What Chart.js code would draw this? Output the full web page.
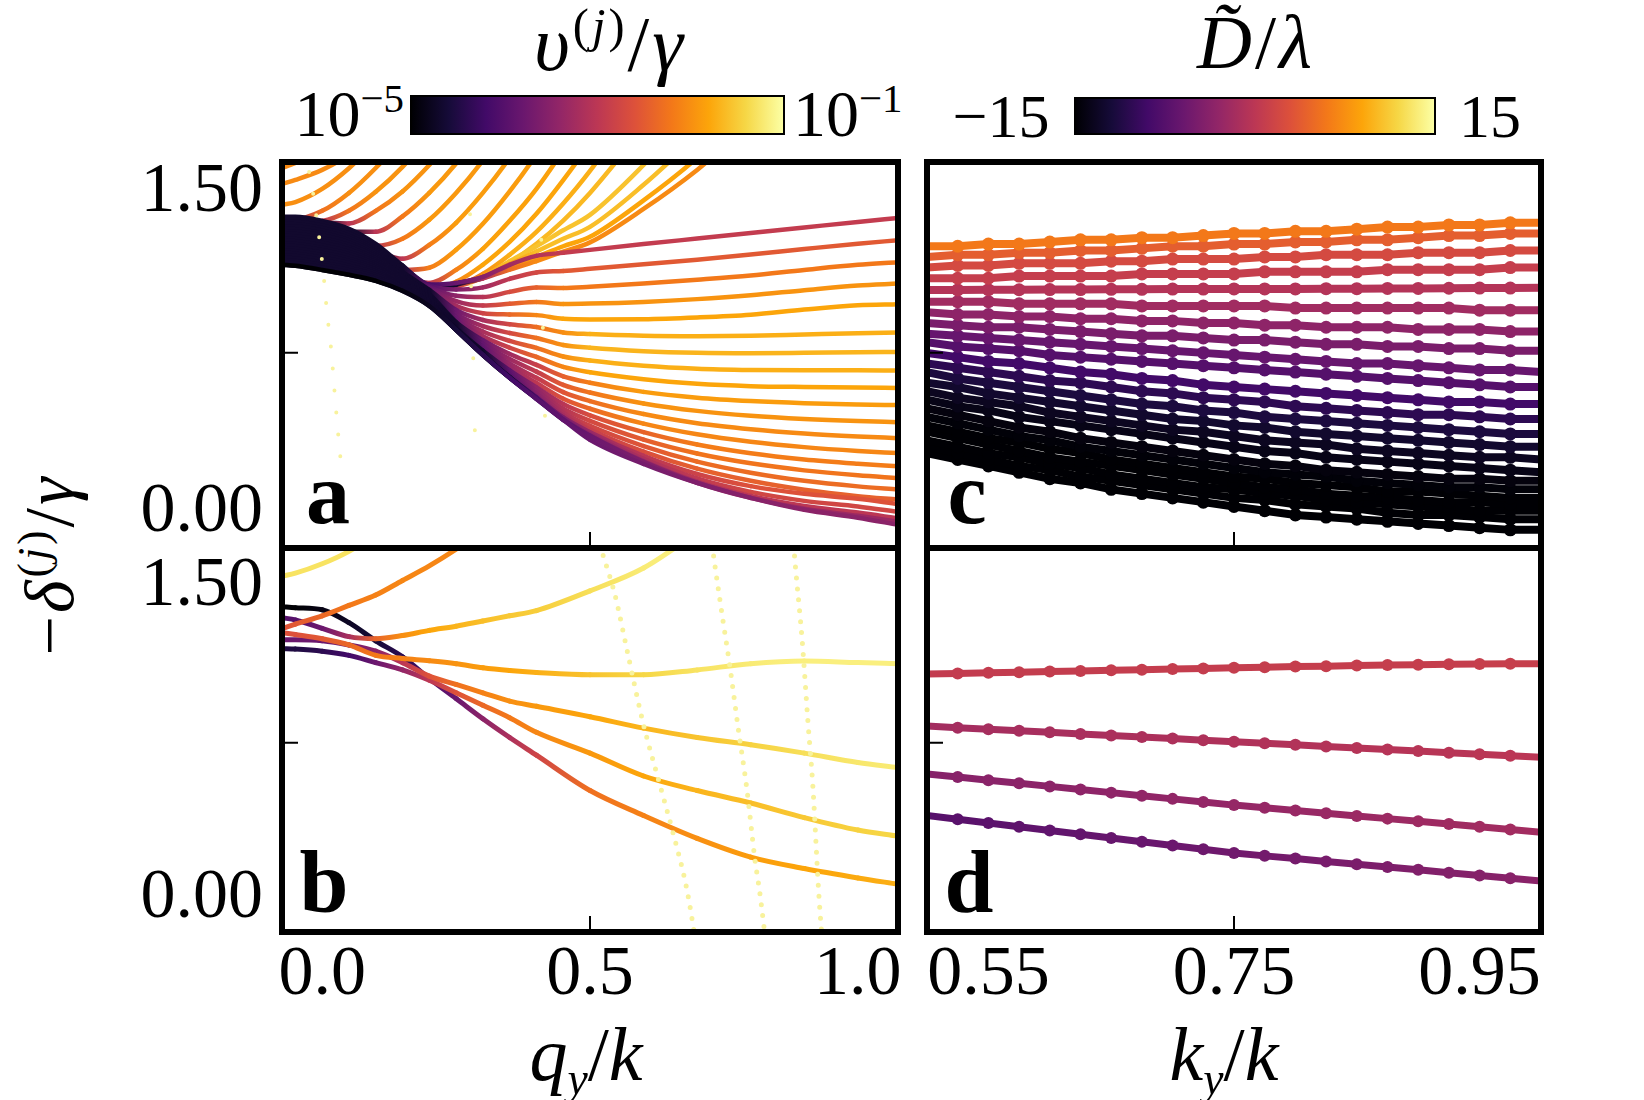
<!DOCTYPE html>
<html><head><meta charset="utf-8">
<script src="https://cdn.jsdelivr.net/npm/chart.js@4.4.1/dist/chart.umd.min.js"></script>
<style>
body{margin:0;background:#fff;}
#fig{position:relative;width:1644px;height:1100px;overflow:hidden;background:#fff;font-family:'Liberation Serif',serif;color:#000;}
.box{position:absolute;}
.t{position:absolute;white-space:nowrap;line-height:1;transform:translate(-50%,-50%);}
.tl{position:absolute;white-space:nowrap;line-height:1;transform:translate(0,-50%);}
.tr{position:absolute;white-space:nowrap;line-height:1;transform:translate(-100%,-50%);}
.it{font-style:italic;}
.up{font-style:normal;}
.bar{position:absolute;border:2px solid #000;box-sizing:border-box;}
sup{font-size:0.62em;position:relative;top:-0.58em;vertical-align:baseline;line-height:0;}
sub{font-size:0.6em;position:relative;top:0.3em;vertical-align:baseline;line-height:0;}
</style></head>
<body><div id="fig">
<div class="t it" style="left:610px;top:44px;font-size:78px;letter-spacing:3px">υ<sup><span class="up">(</span>j<span class="up">)</span></sup><span class="up">/</span>γ</div>
<div class="t it" style="left:1256px;top:42px;font-size:76px;letter-spacing:3px">D&#771;<span class="up">/</span>λ</div>
<div class="bar" id="bar1" style="left:410px;top:95px;width:375px;height:40px"></div>
<div class="bar" id="bar2" style="left:1074px;top:97px;width:362px;height:38px"></div>
<div class="tr" style="left:404px;top:114px;font-size:66px">10<sup>−5</sup></div>
<div class="tl" style="left:793px;top:114px;font-size:66px">10<sup>−1</sup></div>
<div class="t" style="left:1001px;top:116px;font-size:62px">−15</div>
<div class="t" style="left:1490px;top:116px;font-size:62px">15</div>
<div class="t it" style="left:50px;top:565px;font-size:70px;letter-spacing:3px;transform:translate(-50%,-50%) rotate(-90deg)"><span class="up">−</span>δ<sup><span class="up">(</span>j<span class="up">)</span></sup><span class="up">/</span>γ</div>
<div class="t it" style="left:586px;top:1054px;font-size:76px">q<sub>y</sub><span class="up">/</span>k</div>
<div class="t it" style="left:1224px;top:1054px;font-size:76px">k<sub>y</sub><span class="up">/</span>k</div>
<div class="t" style="left:328px;top:494px;font-size:88px;font-weight:bold">a</div>
<div class="t" style="left:324px;top:883px;font-size:88px;font-weight:bold">b</div>
<div class="t" style="left:967px;top:494px;font-size:88px;font-weight:bold">c</div>
<div class="t" style="left:969px;top:883px;font-size:88px;font-weight:bold">d</div>
</div>
<script>
// ---------- panel a : -delta/gamma vs q_y/k, many v values ----------
const aQ = [-0.075,-0.05,0,0.05,0.1,0.15,0.2,0.25,0.3,0.35,0.4,0.45,0.5,0.6,0.7,0.8,0.9,1.0,1.075];

// curves fanning out to the right edge (top to bottom at the right)
const aFan = [
  [1.388,1.388,1.369,1.332,1.261,1.160,1.070,1.078,1.106,1.163,1.205,1.219,1.233,1.260,1.286,1.312,1.338,1.364,1.383],
  [1.377,1.376,1.357,1.321,1.253,1.154,1.065,1.047,1.057,1.097,1.127,1.134,1.144,1.165,1.187,1.211,1.237,1.262,1.278],
  [1.366,1.365,1.346,1.310,1.244,1.148,1.060,1.018,1.012,1.036,1.056,1.054,1.060,1.075,1.093,1.113,1.139,1.163,1.175],
  [1.354,1.353,1.334,1.299,1.235,1.142,1.055,0.993,0.972,0.980,0.989,0.979,0.981,0.989,1.002,1.020,1.044,1.066,1.075],
  [1.343,1.342,1.323,1.288,1.227,1.136,1.050,0.971,0.936,0.930,0.927,0.910,0.907,0.908,0.916,0.929,0.953,0.973,0.978],
  [1.332,1.330,1.311,1.278,1.218,1.130,1.045,0.951,0.904,0.884,0.871,0.846,0.838,0.830,0.828,0.830,0.836,0.842,0.845],
  [1.321,1.319,1.300,1.267,1.209,1.124,1.040,0.933,0.875,0.843,0.820,0.787,0.774,0.758,0.750,0.748,0.750,0.753,0.754],
  [1.309,1.307,1.288,1.256,1.201,1.118,1.035,0.918,0.850,0.806,0.773,0.733,0.714,0.690,0.676,0.670,0.668,0.668,0.667],
  [1.298,1.296,1.277,1.245,1.192,1.112,1.030,0.905,0.828,0.774,0.731,0.684,0.659,0.626,0.605,0.594,0.590,0.588,0.585],
  [1.287,1.284,1.265,1.235,1.183,1.106,1.025,0.894,0.809,0.745,0.694,0.640,0.610,0.567,0.540,0.524,0.514,0.508,0.505],
  [1.276,1.273,1.254,1.224,1.175,1.100,1.020,0.885,0.793,0.721,0.662,0.600,0.564,0.513,0.478,0.455,0.440,0.430,0.425],
  [1.264,1.261,1.242,1.213,1.166,1.094,1.015,0.878,0.779,0.699,0.633,0.566,0.524,0.463,0.420,0.392,0.372,0.358,0.350],
  [1.253,1.250,1.231,1.202,1.157,1.088,1.010,0.872,0.769,0.682,0.609,0.535,0.488,0.418,0.368,0.333,0.308,0.290,0.280],
  [1.242,1.238,1.219,1.191,1.149,1.082,1.005,0.867,0.760,0.668,0.588,0.510,0.457,0.378,0.320,0.279,0.250,0.230,0.218],
  [1.231,1.227,1.208,1.181,1.140,1.076,1.000,0.864,0.753,0.657,0.572,0.488,0.431,0.343,0.278,0.232,0.199,0.176,0.163],
  [1.219,1.215,1.196,1.170,1.131,1.070,0.995,0.861,0.748,0.648,0.559,0.470,0.408,0.313,0.240,0.188,0.150,0.124,0.110],
  [1.208,1.204,1.185,1.159,1.123,1.064,0.990,0.860,0.744,0.641,0.549,0.457,0.391,0.287,0.207,0.150,0.108,0.078,0.062],
  [1.197,1.192,1.173,1.148,1.114,1.058,0.985,0.858,0.742,0.637,0.542,0.447,0.378,0.267,0.182,0.125,0.089,0.066,0.041],
  [1.186,1.181,1.162,1.138,1.105,1.052,0.980,0.858,0.741,0.635,0.537,0.441,0.368,0.253,0.161,0.098,0.056,0.030,0.004],
  [1.174,1.170,1.151,1.127,1.097,1.046,0.975,0.858,0.740,0.633,0.535,0.437,0.363,0.243,0.146,0.079,0.032,0.001,-0.026],
  [1.163,1.158,1.139,1.116,1.088,1.040,0.970,0.858,0.740,0.633,0.535,0.436,0.361,0.239,0.141,0.070,0.019,-0.014,-0.042]
];
const aFanTurn = [6,6,6,6,6,7,7,7,7,8,8,8,8,9,9,9,9,10,10,10,10];
const aFanTone = [0.52,0.62,0.7,0.76,0.8,0.82,0.83,0.82,0.8,0.78,0.76,0.74,0.73,0.71,0.69,0.67,0.64,0.6,0.56,0.5,0.42];

// curves leaving the band upwards (exit through the top)
const aUp = [
  [1.617,1.641,1.702],
  [1.542,1.561,1.608,1.678,1.772],
  [1.444,1.457,1.519,1.616,1.739,1.88],
  [1.378,1.378,1.416,1.50,1.617,1.756,1.927],
  [1.364,1.364,1.369,1.416,1.505,1.622,1.767,1.936],
  [1.355,1.355,1.36,1.357,1.416,1.507,1.631,1.779,1.946],
  [1.346,1.346,1.346,1.318,1.318,1.39,1.50,1.638,1.805,1.99],
  [1.336,1.336,1.332,1.304,1.252,1.285,1.374,1.50,1.652,1.833,2.025],
  [1.327,1.327,1.322,1.289,1.233,1.191,1.256,1.36,1.50,1.664,1.852,2.05,2.3],
  [1.318,1.318,1.313,1.28,1.219,1.139,1.149,1.233,1.355,1.507,1.68,1.88,2.11],
  [1.308,1.308,1.303,1.27,1.205,1.111,1.078,1.139,1.238,1.369,1.519,1.70,1.903,2.37],
  [1.299,1.299,1.294,1.261,1.196,1.097,1.05,1.083,1.163,1.27,1.402,1.56,1.735,2.14],
  [1.29,1.29,1.285,1.252,1.186,1.088,1.045,1.061,1.12,1.21,1.317,1.45,1.603,1.96],
  [1.28,1.28,1.275,1.242,1.177,1.078,1.045,1.06,1.102,1.172,1.261,1.37,1.50,1.805],
  [1.27,1.27,1.266,1.233,1.167,1.069,1.041,1.069,1.11,1.18,1.25,1.325,1.397,1.631,1.903],
  [1.261,1.261,1.256,1.224,1.158,1.06,1.036,1.074,1.105,1.165,1.225,1.285,1.341,1.538,1.767],
  [1.252,1.252,1.247,1.214,1.149,1.055,1.031,1.074,1.10,1.15,1.20,1.25,1.294,1.465,1.664,1.903],
  [1.242,1.242,1.238,1.205,1.139,1.05,1.027,1.069,1.10,1.14,1.18,1.225,1.268,1.425,1.608,1.824]
];
const aUpTurn = [-3,-3,-3,1,2,3,4,4,5,5,6,6,7,7,7,8,8,8];
const aUpTone = [0.74,0.74,0.75,0.75,0.76,0.76,0.77,0.77,0.78,0.78,0.79,0.8,0.82,0.84,0.86,0.85,0.8,0.74];

// lower envelope (small-v limit)
const aEdge = [1.163,1.158,1.139,1.116,1.088,1.041,0.970,0.858,0.741,0.633,0.534,0.436,0.342,0.229,0.140,0.070,0.014,-0.023,-0.056];
const aEdgeTone = [0,0,0,0,0,0.02,0.05,0.1,0.15,0.2,0.25,0.28,0.3,0.33,0.35,0.37,0.38,0.38,0.38];

// sparse pale dotted branches in a
const aDot1Q = [-0.03,-0.026,-0.021,-0.013,0.002,0.009,0.017,0.024,0.032,0.037];
const aDot1V = [1.70,1.62,1.56,1.43,1.13,0.94,0.76,0.54,0.31,0.19];
const aDot2Q = [0.276,0.278,0.282,0.285,0.289];
const aDot2V = [1.40,1.06,0.73,0.39,0.05];
const aDot3Q = [0.409,0.412,0.416,0.42];
const aDot3V = [1.28,0.87,0.45,0.05];

// ---------- panel b : a few selected curves, value and colour (v-scale position 0..1) per point ----------
const bQ = [-0.075,-0.05,0,0.05,0.1,0.15,0.2,0.25,0.3,0.35,0.4,0.5,0.6,0.7,0.8,0.9,1.0,1.075];
const bCurves = [
  [1.55,1.565,1.61,1.67,1.75],
  [1.298,1.32,1.36,1.41,1.46,1.53,1.60,1.68,1.77],
  [1.351,1.34,1.30,1.26,1.25,1.265,1.29,1.31,1.335,1.36,1.385,1.48,1.59,1.76],
  [1.279,1.27,1.25,1.22,1.17,1.155,1.144,1.13,1.11,1.097,1.088,1.077,1.077,1.10,1.13,1.143,1.135,1.13],
  [1.245,1.245,1.24,1.22,1.19,1.135,1.07,1.03,0.99,0.95,0.925,0.875,0.82,0.775,0.74,0.70,0.655,0.63],
  [1.202,1.20,1.19,1.17,1.135,1.10,1.05,0.99,0.93,0.87,0.80,0.70,0.59,0.52,0.46,0.39,0.33,0.30],
  [1.404,1.399,1.389,1.327,1.24,1.163,1.058,0.962,0.865,0.775,0.69,0.52,0.40,0.29,0.20,0.145,0.10,0.07]
];
const bTones = [
  [0.93,0.93,0.93,0.93,0.93],
  [0.6,0.62,0.66,0.7,0.72,0.73,0.73,0.73,0.73],
  [0.25,0.25,0.3,0.45,0.65,0.75,0.8,0.83,0.85,0.87,0.88,0.92,0.95,0.97],
  [0.6,0.6,0.62,0.66,0.7,0.72,0.74,0.76,0.78,0.8,0.82,0.86,0.9,0.93,0.95,0.96,0.96,0.96],
  [0.3,0.3,0.3,0.32,0.38,0.5,0.6,0.68,0.72,0.75,0.77,0.8,0.83,0.86,0.89,0.92,0.94,0.95],
  [0.12,0.12,0.15,0.2,0.3,0.4,0.5,0.6,0.66,0.7,0.73,0.77,0.8,0.83,0.85,0.87,0.89,0.9],
  [0,0,0.03,0.06,0.1,0.15,0.22,0.3,0.38,0.46,0.55,0.68,0.72,0.75,0.78,0.8,0.81,0.82]
];
const bDot1Q = [0.518,0.524,0.547,0.569,0.599,0.631,0.655,0.681,0.70];
const bDot1V = [1.70,1.654,1.457,1.197,0.846,0.543,0.317,0.043,-0.25];
const bDot2Q = [0.728,0.733,0.748,0.761,0.776,0.793,0.808,0.817,0.83];
const bDot2V = [1.70,1.606,1.341,1.12,0.832,0.524,0.187,0.029,-0.25];
const bDot3Q = [0.880,0.884,0.896,0.907,0.916,0.927,0.935];
const bDot3V = [1.70,1.582,1.245,0.846,0.543,0.029,-0.25];

// ---------- panel c / d : -delta/gamma vs k_y/k, colour = D~/lambda ----------
const cK = [0.5,0.525,0.55,0.575,0.6,0.625,0.65,0.675,0.7,0.725,0.75,0.775,0.8,0.825,0.85,0.875,0.9,0.925,0.95,0.975,1.0];
const cCurves = [
  [1.25,1.25,1.26,1.26,1.27,1.28,1.28,1.29,1.29,1.30,1.31,1.31,1.32,1.32,1.33,1.34,1.34,1.35,1.35,1.36,1.36],
  [1.20,1.21,1.21,1.22,1.22,1.23,1.23,1.24,1.25,1.25,1.26,1.26,1.27,1.27,1.28,1.28,1.29,1.30,1.30,1.31,1.31],
  [1.15,1.16,1.16,1.17,1.17,1.17,1.18,1.18,1.19,1.19,1.19,1.20,1.20,1.21,1.21,1.21,1.22,1.22,1.22,1.23,1.23],
  [1.10,1.10,1.10,1.11,1.11,1.11,1.11,1.12,1.12,1.12,1.12,1.13,1.13,1.13,1.13,1.14,1.14,1.14,1.14,1.15,1.15],
  [1.045,1.045,1.046,1.046,1.047,1.047,1.048,1.048,1.049,1.049,1.05,1.05,1.05,1.051,1.051,1.052,1.052,1.053,1.054,1.054,1.055],
  [0.99,0.99,0.99,0.98,0.98,0.98,0.98,0.97,0.97,0.97,0.97,0.97,0.96,0.96,0.96,0.96,0.96,0.96,0.95,0.95,0.95],
  [0.94,0.93,0.93,0.92,0.92,0.91,0.91,0.90,0.90,0.89,0.89,0.88,0.88,0.87,0.87,0.87,0.86,0.86,0.86,0.85,0.85],
  [0.89,0.88,0.87,0.87,0.86,0.85,0.84,0.83,0.83,0.82,0.81,0.81,0.80,0.79,0.79,0.78,0.78,0.77,0.77,0.76,0.76],
  [0.84,0.83,0.82,0.81,0.80,0.79,0.78,0.77,0.76,0.75,0.74,0.73,0.72,0.71,0.70,0.70,0.69,0.68,0.67,0.67,0.66],
  [0.80,0.78,0.77,0.76,0.74,0.73,0.72,0.71,0.70,0.69,0.68,0.67,0.66,0.65,0.64,0.63,0.62,0.61,0.60,0.59,0.59],
  [0.75,0.73,0.71,0.70,0.68,0.66,0.65,0.63,0.62,0.60,0.59,0.58,0.57,0.56,0.55,0.54,0.53,0.52,0.52,0.51,0.51],
  [0.70,0.68,0.66,0.64,0.62,0.61,0.59,0.57,0.56,0.54,0.53,0.52,0.50,0.49,0.48,0.47,0.46,0.46,0.45,0.44,0.44],
  [0.66,0.63,0.61,0.59,0.57,0.55,0.53,0.51,0.50,0.48,0.47,0.45,0.44,0.43,0.42,0.41,0.40,0.39,0.38,0.37,0.37],
  [0.61,0.59,0.56,0.54,0.52,0.50,0.48,0.46,0.44,0.43,0.41,0.40,0.38,0.37,0.36,0.35,0.34,0.33,0.32,0.31,0.31],
  [0.57,0.54,0.52,0.50,0.47,0.45,0.43,0.41,0.39,0.38,0.36,0.34,0.33,0.32,0.30,0.29,0.28,0.27,0.26,0.26,0.25],
  [0.53,0.50,0.48,0.45,0.43,0.41,0.39,0.37,0.35,0.33,0.31,0.29,0.28,0.26,0.25,0.24,0.23,0.22,0.21,0.20,0.19],
  [0.49,0.46,0.43,0.40,0.38,0.35,0.33,0.31,0.29,0.27,0.25,0.23,0.22,0.20,0.19,0.18,0.17,0.16,0.16,0.15,0.15],
  [0.45,0.42,0.39,0.36,0.34,0.31,0.29,0.27,0.25,0.23,0.21,0.19,0.18,0.17,0.15,0.14,0.13,0.12,0.12,0.11,0.11],
  [0.41,0.38,0.35,0.33,0.30,0.28,0.25,0.23,0.21,0.19,0.17,0.16,0.14,0.13,0.12,0.10,0.10,0.09,0.08,0.07,0.07],
  [0.38,0.35,0.32,0.29,0.26,0.24,0.22,0.20,0.18,0.16,0.14,0.12,0.11,0.09,0.08,0.07,0.06,0.05,0.05,0.04,0.04],
  [0.34,0.31,0.28,0.26,0.23,0.21,0.18,0.16,0.14,0.12,0.11,0.09,0.08,0.06,0.05,0.04,0.03,0.02,0.01,0.01,0.01],
  [0.31,0.28,0.25,0.22,0.20,0.17,0.15,0.13,0.11,0.09,0.07,0.06,0.04,0.03,0.02,0.00,-0.01,-0.01,-0.02,-0.03,-0.03],
  [0.28,0.25,0.22,0.19,0.16,0.14,0.11,0.09,0.07,0.05,0.03,0.01,-0.01,-0.02,-0.03,-0.04,-0.05,-0.06,-0.07,-0.08,-0.08]
];
const cD = [6,4,2.2,0.8,-0.6,-2,-3.4,-4.8,-6.2,-7.6,-9,-10.4,-11.6,-12.6,-13.4,-14,-14.5,-14.8,-15,-15,-15,-15,-15];

const dCurves = [
  [1.08,1.083,1.086,1.089,1.092,1.095,1.098,1.101,1.104,1.107,1.11,1.113,1.116,1.118,1.121,1.123,1.125,1.127,1.128,1.129,1.13],
  [0.83,0.822,0.815,0.807,0.80,0.792,0.785,0.777,0.77,0.762,0.755,0.747,0.74,0.732,0.725,0.717,0.71,0.702,0.695,0.687,0.68],
  [0.60,0.585,0.57,0.555,0.54,0.525,0.51,0.495,0.48,0.465,0.45,0.437,0.424,0.411,0.398,0.385,0.372,0.359,0.346,0.333,0.32],
  [0.40,0.382,0.364,0.346,0.328,0.31,0.292,0.274,0.256,0.238,0.22,0.206,0.193,0.179,0.166,0.152,0.139,0.125,0.112,0.098,0.085]
];
const dDStart = [0.6,-1.8,-3.9,-7.5];
const dDEnd = [0.9,0,-1.8,-3.6];

// ---------- colour map ----------
const INF = [[0,0,4],[22,11,57],[66,10,104],[106,23,110],[147,38,103],[188,55,84],[221,81,58],[243,120,25],[252,165,10],[246,215,70],[252,255,164]];
function tone(t) {
  t = Math.max(0, Math.min(1, t));
  const s = t * 10, i = Math.min(9, Math.floor(s)), f = s - i;
  const a = INF[i], b = INF[i + 1];
  return 'rgb(' + [0,1,2].map(c => Math.round(a[c] + (b[c] - a[c]) * f)).join(',') + ')';
}
const barGrad = 'linear-gradient(to right,' + INF.map(c => 'rgb(' + c.join(',') + ')').join(',') + ')';
document.getElementById('bar1').style.background = barGrad;
document.getElementById('bar2').style.background = barGrad;

function shade(tones) {
  return ctx => {
    const t0 = tones[ctx.p0DataIndex], t1 = tones[ctx.p1DataIndex];
    if (Math.abs(t0 - t1) < 0.004) return tone(t0);
    const g = ctx.chart.ctx.createLinearGradient(ctx.p0.x, ctx.p0.y, ctx.p1.x, ctx.p1.y);
    g.addColorStop(0, tone(t0));
    g.addColorStop(1, tone(t1));
    return g;
  };
}

const DARK = 0.08;
const FAN_STEPS = [0.3, 0.5, 0.65, 0.8, 0.9];
const UP_STEPS = [0.6, 0.9];
function ramp(turn, end, steps) {
  return aQ.map((q, k) => k < turn ? DARK : DARK + (end - DARK) * (steps[k - turn] ?? 1));
}

function curve(xs, ys, tones, width) {
  return {
    data: xs.map((x, i) => ({x: x, y: ys[i] === undefined ? null : ys[i]})),
    borderWidth: width, pointRadius: 0, cubicInterpolationMode: 'monotone',
    borderCapStyle: 'round', borderJoinStyle: 'round', clip: 0,
    borderColor: tone(tones[0]), segment: {borderColor: shade(tones)}
  };
}
function dots(xs, ys, gap, width) {
  return {
    data: xs.map((x, i) => ({x: x, y: ys[i]})),
    borderColor: '#f8f29c', borderWidth: width, borderDash: [0, gap], borderCapStyle: 'round',
    pointRadius: 0, cubicInterpolationMode: 'monotone', clip: 0
  };
}
function marked(ys, tones, width, radius) {
  return {
    data: cK.map((x, i) => ({x: x, y: ys[i]})),
    borderWidth: width, borderCapStyle: 'round', clip: 0,
    borderColor: tone(tones[0]), segment: {borderColor: shade(tones)},
    pointRadius: c => (c.dataIndex === 0 || c.dataIndex === cK.length - 1) ? 0 : radius,
    pointBackgroundColor: c => tone(tones[c.dataIndex]), pointBorderWidth: 0
  };
}

// ---------- datasets ----------
const dsA = [];
dsA.push(dots(aDot1Q, aDot1V, 22, 4), dots(aDot2Q, aDot2V, 72, 4), dots(aDot3Q, aDot3V, 88, 4));
dsA.push(curve(aQ, aEdge, aEdgeTone, 4.5));
for (let i = aFan.length - 1; i >= 0; i--) dsA.push(curve(aQ, aFan[i], ramp(aFanTurn[i], aFanTone[i], FAN_STEPS), 4.5));
for (let j = aUp.length - 1; j >= 0; j--) dsA.push(curve(aQ, aUp[j], ramp(aUpTurn[j], aUpTone[j], UP_STEPS), 4.5));

const dsB = [dots(bDot1Q, bDot1V, 11, 5), dots(bDot2Q, bDot2V, 11, 5), dots(bDot3Q, bDot3V, 11, 5)];
bCurves.forEach((ys, i) => dsB.push(curve(bQ, ys, bTones[i], 5)));

const dsC = cCurves.map((ys, i) => marked(ys, cK.map(() => (cD[i] + 15) / 30), 8, 6.5));
const dsD = dCurves.map((ys, i) => marked(ys, cK.map((k, n) => (dDStart[i] + (dDEnd[i] - dDStart[i]) * n / (cK.length - 1) + 15) / 30), 7, 6));

// ---------- frame + inward ticks ----------
const frame = {
  id: 'frame',
  afterDatasetsDraw(chart, args, opts) {
    const {ctx, chartArea: a, scales} = chart;
    ctx.save();
    ctx.strokeStyle = '#000';
    ctx.lineWidth = 2;
    ctx.beginPath();
    (opts.xt || []).forEach(v => { const x = scales.x.getPixelForValue(v); ctx.moveTo(x, a.bottom); ctx.lineTo(x, a.bottom - 16); });
    (opts.yt || []).forEach(v => { const y = scales.y.getPixelForValue(v); ctx.moveTo(a.left, y); ctx.lineTo(a.left + 16, y); });
    ctx.stroke();
    ctx.lineWidth = 6;
    ctx.strokeRect(a.left, a.top, a.right - a.left, a.bottom - a.top);
    ctx.restore();
  }
};

Chart.defaults.font.family = "'Liberation Serif', serif";
Chart.defaults.color = '#000';
const fig = document.getElementById('fig');

function panel(cfg) {
  const [l, t, r, b] = cfg.box, [pl, pt, pr, pb] = cfg.pad;
  const div = document.createElement('div');
  div.className = 'box';
  div.style.left = (l - pl) + 'px'; div.style.top = (t - pt) + 'px';
  div.style.width = (r - l + pl + pr) + 'px'; div.style.height = (b - t + pt + pb) + 'px';
  const cv = document.createElement('canvas');
  div.appendChild(cv);
  fig.insertBefore(div, fig.firstChild);
  new Chart(cv, {
    type: 'line',
    data: {datasets: cfg.datasets},
    options: {
      responsive: true, maintainAspectRatio: false, animation: false, events: [],
      layout: {padding: {top: pt, right: pr, left: 0, bottom: 0}},
      plugins: {legend: {display: false}, tooltip: {enabled: false}, frame: {xt: cfg.xMark, yt: cfg.yMark}},
      scales: {
        x: {
          type: 'linear', min: cfg.xr[0], max: cfg.xr[1],
          grid: {display: false}, border: {display: false},
          ticks: {display: !!cfg.xLab, autoSkip: false, maxRotation: 0, padding: -6, font: {size: 70},
                  callback: v => Number(v).toFixed(cfg.xDig || 1)},
          afterBuildTicks: s => { s.ticks = (cfg.xLab || []).map(v => ({value: v})); },
          afterFit: s => { s.height = pb; s.paddingLeft = 0; s.paddingRight = 0; }
        },
        y: {
          type: 'linear', min: cfg.yr[0], max: cfg.yr[1],
          grid: {display: false}, border: {display: false},
          ticks: {display: !!cfg.yLab, autoSkip: false, padding: 11, font: {size: 70},
                  callback: v => Number(v).toFixed(2)},
          afterBuildTicks: s => { s.ticks = (cfg.yLab || []).map(v => ({value: v})); },
          afterFit: s => { s.width = pl; s.paddingTop = 0; s.paddingBottom = 0; }
        }
      }
    },
    plugins: [frame]
  });
}

panel({box: [282, 162, 898, 548], pad: [150, 8, 8, 8], xr: [-0.075, 1.075], yr: [-0.165, 1.645],
       yLab: [0, 1.5], xMark: [0.5], yMark: [0.75], datasets: dsA});
panel({box: [282, 548, 898, 932], pad: [150, 8, 8, 90], xr: [-0.075, 1.075], yr: [-0.16, 1.686],
       xLab: [0, 0.5, 1.0], xDig: 1, yLab: [0, 1.5], xMark: [0.5], yMark: [0.75], datasets: dsB});
panel({box: [927, 162, 1541, 548], pad: [8, 8, 8, 8], xr: [0.5, 1.0], yr: [-0.165, 1.645],
       xMark: [0.75], yMark: [0.75], datasets: dsC});
panel({box: [927, 548, 1541, 932], pad: [8, 8, 8, 90], xr: [0.5, 1.0], yr: [-0.16, 1.686],
       xLab: [0.55, 0.75, 0.95], xDig: 2, xMark: [0.75], yMark: [0.75], datasets: dsD});
</script>
</body></html>
